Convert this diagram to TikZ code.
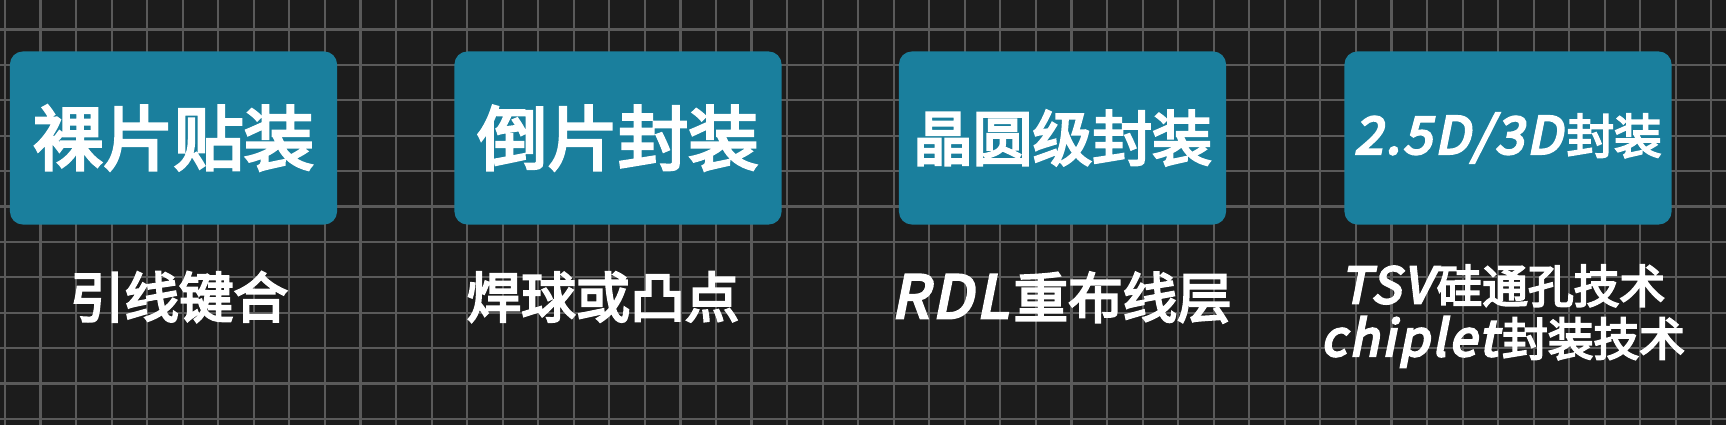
\documentclass[tikz,border=0pt]{standalone}
\usepackage{fontspec}
\setmainfont{Noto Sans CJK SC}[FakeBold=4]
\newfontfamily\tilt{Noto Sans CJK SC}[FakeSlant=0.2, FakeBold=5, Scale=1.08, LetterSpace=6]
\newcommand\lat[1]{{\tilt #1}\kern0.1em}
\usetikzlibrary{positioning}
\definecolor{cbg}{HTML}{1C1C1C}
\definecolor{cgrid}{HTML}{5A5A5A}
\definecolor{cteal}{HTML}{1A7F9D}
\tikzset{
  every picture/.style={line width=0.6pt},
  pkg/.style={fill=cteal, rounded corners=0.13cm, minimum width=3.27cm, minimum height=1.73cm, inner sep=0pt, text=white},
  note/.style={text=white, align=center, inner sep=0pt},
  fs/.style={font=\fontsize{#1}{#1}\selectfont},
}

\begin{document}
\begin{tikzpicture}[x=0.01cm, y=-0.01cm]
  \fill[cbg] (0,0) rectangle (1726,425);
  \useasboundingbox (0,0) rectangle (1726,425);
  % grid paper
  \foreach \i in {0,...,48} \draw[cgrid] (5+35.55*\i,0) -- (5+35.55*\i,425);
  \foreach \j in {0,...,11} \draw[cgrid] (0,29.5+35.4*\j) -- (1726,29.5+35.4*\j);
  % packaging types
  \node[pkg, fs=20] (bare) at (173.5,138) {裸片贴装};
  \node[pkg, fs=20] (flip) at (618,138) {倒片封装};
  \node[pkg, fs=17] (wafer) at (1062.5,138) {晶圆级封装};
  \node[pkg, fs=13.5] (stack) at (1508,138) {\lat{2.5D/3D}封装};
  % interconnect under each
  \node[note, fs=15.5] (wire) at (179,297) {引线键合};
  \node[note, fs=15.5] (bump) at (603,297) {焊球或凸点};
  \node[note, fs=15.5] (rdl) at (1061.5,297.5) {\lat{RDL}重布线层};
  \node[note, font=\fontsize{13}{15}\selectfont] (tsv) at (1503,316) {\lat{TSV}硅通孔技术\\\lat{chiplet}封装技术};
\end{tikzpicture}
\end{document}
